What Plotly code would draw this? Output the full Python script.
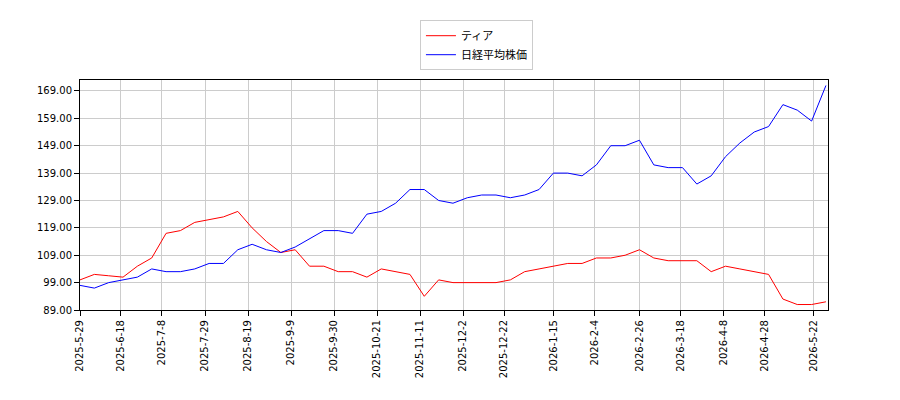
import pandas as pd
import plotly.graph_objs as go

#Weekly values
dates = pd.date_range('2025-05-29', periods=53, freq='7D')

tia = [100, 102, 101.5, 101, 105, 108, 117, 118, 121, 122, 123, 125, 119, 114,
       110, 111, 105, 105, 103, 103, 101, 104, 103, 102, 94, 100, 99, 99, 99, 99,
       100, 103, 104, 105, 106, 106, 108, 108, 109, 111, 108, 107, 107, 107, 103,
       105, 104, 103, 102, 93, 91, 91, 92]

nikkei = [98, 97, 99, 100, 101, 104, 103, 103, 104, 106, 106, 111, 113, 111, 110,
          112, 115, 118, 118, 117, 124, 125, 128, 133, 133, 129, 128, 130, 131, 131,
          130, 131, 133, 139, 139, 138, 142, 149, 149, 151, 142, 141, 141, 135, 138,
          145, 150, 154, 156, 164, 162, 158, 171]

tick_dates = ['2025-5-29', '2025-6-18', '2025-7-8', '2025-7-29', '2025-8-19',
              '2025-9-9', '2025-9-30', '2025-10-21', '2025-11-11', '2025-12-2',
              '2025-12-22', '2026-1-15', '2026-2-4', '2026-2-26', '2026-3-18',
              '2026-4-8', '2026-4-28', '2026-5-22']
y_ticks = [89, 99, 109, 119, 129, 139, 149, 159, 169]

fig = go.Figure()
fig.add_trace(go.Scatter(x=dates, y=tia, name='ティア', mode='lines',
                         line=dict(color='red', width=1)))
fig.add_trace(go.Scatter(x=dates, y=nikkei, name='日経平均株価', mode='lines',
                         line=dict(color='blue', width=1)))

axis_style = dict(showgrid=True, gridcolor='#cccccc', showline=True, linecolor='black',
                  mirror=True, ticks='outside', tickcolor='black', zeroline=False)

fig.update_xaxes(tickvals=pd.to_datetime(tick_dates), ticktext=tick_dates, tickangle=-90,
                 range=[pd.Timestamp('2025-05-29'), pd.Timestamp('2026-05-29')], **axis_style)
fig.update_yaxes(tickvals=y_ticks, ticktext=['%.2f' % v for v in y_ticks],
                 range=[89, 173], **axis_style)

fig.update_layout(
    width=900, height=400, plot_bgcolor='white', paper_bgcolor='white',
    margin=dict(l=72, r=80, t=62, b=98),
    font=dict(family='DejaVu Sans', size=10, color='black'),
    legend=dict(x=0.53, y=1.26, xanchor='center', yanchor='top',
                bordercolor='#cccccc', borderwidth=1, font=dict(size=11,
                family='Noto Sans CJK JP')),
)

fig.write_html('out.html')
